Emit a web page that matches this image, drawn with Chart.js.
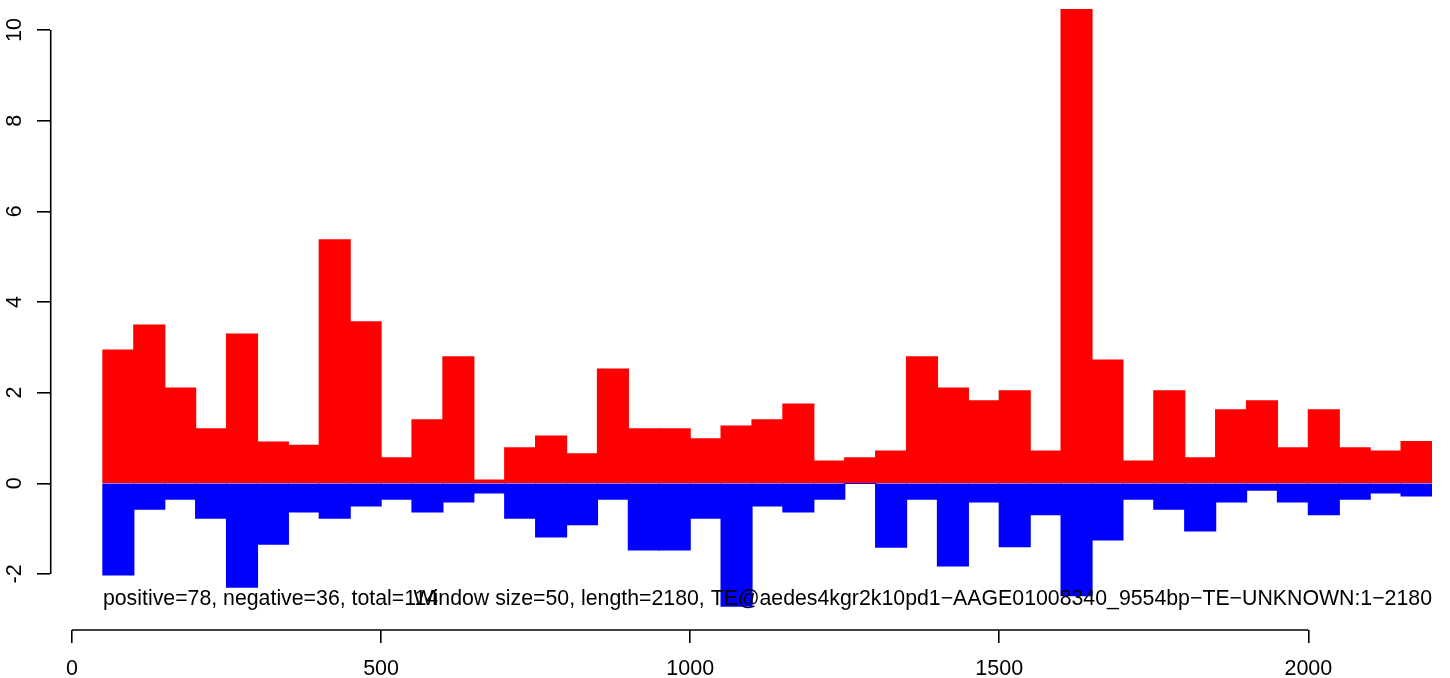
<!DOCTYPE html>
<html>
<head>
<meta charset="utf-8">
<script src="https://cdn.jsdelivr.net/npm/chart.js@4.4.1/dist/chart.umd.min.js"></script>
<style>
  body { margin: 0; background: #fff; }
  #wrap { width: 1450px; height: 678px; }
</style>
</head>
<body>
<div id="wrap"><canvas id="chart" width="1450" height="678"></canvas></div>
<script>
// window starts (bp), window size 50
var binSize = 50;
var binStarts = [50, 100, 150, 200, 250, 300, 350, 400, 450, 500,
                 550, 600, 650, 700, 750, 800, 850, 900, 950, 1000,
                 1050, 1100, 1150, 1200, 1250, 1300, 1350, 1400, 1450, 1500,
                 1550, 1600, 1650, 1700, 1750, 1800, 1850, 1900, 1950, 2000,
                 2050, 2100, 2150];
var positiveVals = [2.94, 3.49, 2.10, 1.20, 3.29, 0.91, 0.84, 5.37, 3.56, 0.56,
                    1.40, 2.79, 0.07, 0.78, 1.04, 0.65, 2.52, 1.20, 1.20, 0.98,
                    1.26, 1.40, 1.75, 0.49, 0.56, 0.71, 2.79, 2.10, 1.82, 2.04,
                    0.71, 10.46, 2.72, 0.49, 2.04, 0.56, 1.62, 1.82, 0.78, 1.62,
                    0.78, 0.71, 0.92];
var negativeVals = [-2.02, -0.57, -0.35, -0.77, -2.29, -1.34, -0.63, -0.77, -0.50, -0.35,
                    -0.63, -0.41, -0.21, -0.77, -1.18, -0.91, -0.35, -1.47, -1.47, -0.77,
                    -2.71, -0.50, -0.63, -0.35, 0, -1.41, -0.35, -1.82, -0.41, -1.40,
                    -0.69, -2.48, -1.25, -0.35, -0.57, -1.05, -0.41, -0.15, -0.41, -0.69,
                    -0.35, -0.21, -0.28];
var xTicks = [0, 500, 1000, 1500, 2000];
var yTicks = [-2, 0, 2, 4, 6, 8, 10];
var summaryText = 'positive=78, negative=36, total=114';
var titleText = 'Window size=50, length=2180, TE@aedes4kgr2k10pd1\u2212AAGE01008340_9554bp\u2212TE\u2212UNKNOWN:1\u22122180';

var FONT = "'Liberation Sans', Arial, Helvetica, sans-serif";

function toPoints(vals){
    return binStarts.map(function(s, i){ return {x: s + binSize / 2, y: vals[i]}; });
}

// R style axis lines: only from first to last tick, plus the two text lines
var rDecor = {
    id: 'rDecor',
    afterDatasetsDraw: function(chart){
        var ctx = chart.ctx, xs = chart.scales.x, ys = chart.scales.y;
        var area = chart.chartArea;
        ctx.save();
        ctx.strokeStyle = '#000';
        ctx.lineWidth = 1.6;
        ctx.beginPath();
        ctx.moveTo(xs.getPixelForValue(xTicks[0]), area.bottom);
        ctx.lineTo(xs.getPixelForValue(xTicks[xTicks.length - 1]), area.bottom);
        ctx.moveTo(area.left + 0.7, ys.getPixelForValue(yTicks[0]));
        ctx.lineTo(area.left + 0.7, ys.getPixelForValue(yTicks[yTicks.length - 1]));
        ctx.stroke();

        ctx.fillStyle = '#000';
        ctx.font = '21.3px ' + FONT;
        ctx.textBaseline = 'alphabetic';
        var ty = ys.getPixelForValue(-2.68);
        ctx.textAlign = 'left';
        ctx.fillText(summaryText, xs.getPixelForValue(binStarts[0]), ty);
        ctx.textAlign = 'right';
        ctx.fillText(titleText, xs.getPixelForValue(binStarts[binStarts.length - 1] + binSize), ty);
        ctx.restore();
    }
};

window.onload = function(){
    var ctx = document.getElementById('chart');
    var chart = new Chart(ctx, {
        type: 'bar',
        data: {
            datasets: [
                {
                    label: 'positive',
                    data: toPoints(positiveVals),
                    backgroundColor: '#ff0000',
                    borderWidth: 0,
                    inflateAmount: 0.6,
                    barPercentage: 1,
                    categoryPercentage: 1
                },
                {
                    label: 'negative',
                    data: toPoints(negativeVals),
                    backgroundColor: '#0000ff',
                    borderWidth: 0,
                    inflateAmount: 0.6,
                    barPercentage: 1,
                    categoryPercentage: 1
                }
            ]
        },
        options: {
            responsive: false,
            animation: false,
            grouped: false,
            layout: { padding: { top: 9, right: 18, left: 0, bottom: 0 } },
            plugins: {
                legend: { display: false },
                tooltip: { enabled: false }
            },
            scales: {
                x: {
                    type: 'linear',
                    min: -35.6,
                    max: 2200,
                    offset: false,
                    afterBuildTicks: function(axis){
                        axis.ticks = xTicks.map(function(v){ return {value: v}; });
                    },
                    afterFit: function(axis){
                        axis.height = 48;
                        axis.paddingLeft = 0;
                        axis.paddingRight = 0;
                    },
                    border: { display: false },
                    grid: {
                        offset: false,
                        drawOnChartArea: false,
                        drawTicks: true,
                        tickLength: 13,
                        color: '#000',
                        lineWidth: 1.6
                    },
                    ticks: {
                        color: '#000',
                        font: { family: FONT, size: 21.5 },
                        padding: 13,
                        maxRotation: 0,
                        autoSkip: false,
                        callback: function(v){ return String(v); }
                    }
                },
                y: {
                    min: -3.236,
                    max: 10.463,
                    afterBuildTicks: function(axis){
                        axis.ticks = yTicks.map(function(v){ return {value: v}; });
                    },
                    afterFit: function(axis){
                        axis.width = 50;
                        axis.paddingTop = 0;
                        axis.paddingBottom = 0;
                    },
                    border: { display: false },
                    grid: {
                        drawOnChartArea: false,
                        drawTicks: true,
                        tickLength: 13,
                        color: '#000',
                        lineWidth: 1.6
                    },
                    ticks: {
                        color: '#000',
                        font: { family: FONT, size: 21.5 },
                        padding: 9.5,
                        minRotation: 90,
                        maxRotation: 90,
                        crossAlign: 'center',
                        autoSkip: false,
                        callback: function(v){ return String(v); }
                    }
                }
            }
        },
        plugins: [rDecor]
    });
};
</script>
</body>
</html>
